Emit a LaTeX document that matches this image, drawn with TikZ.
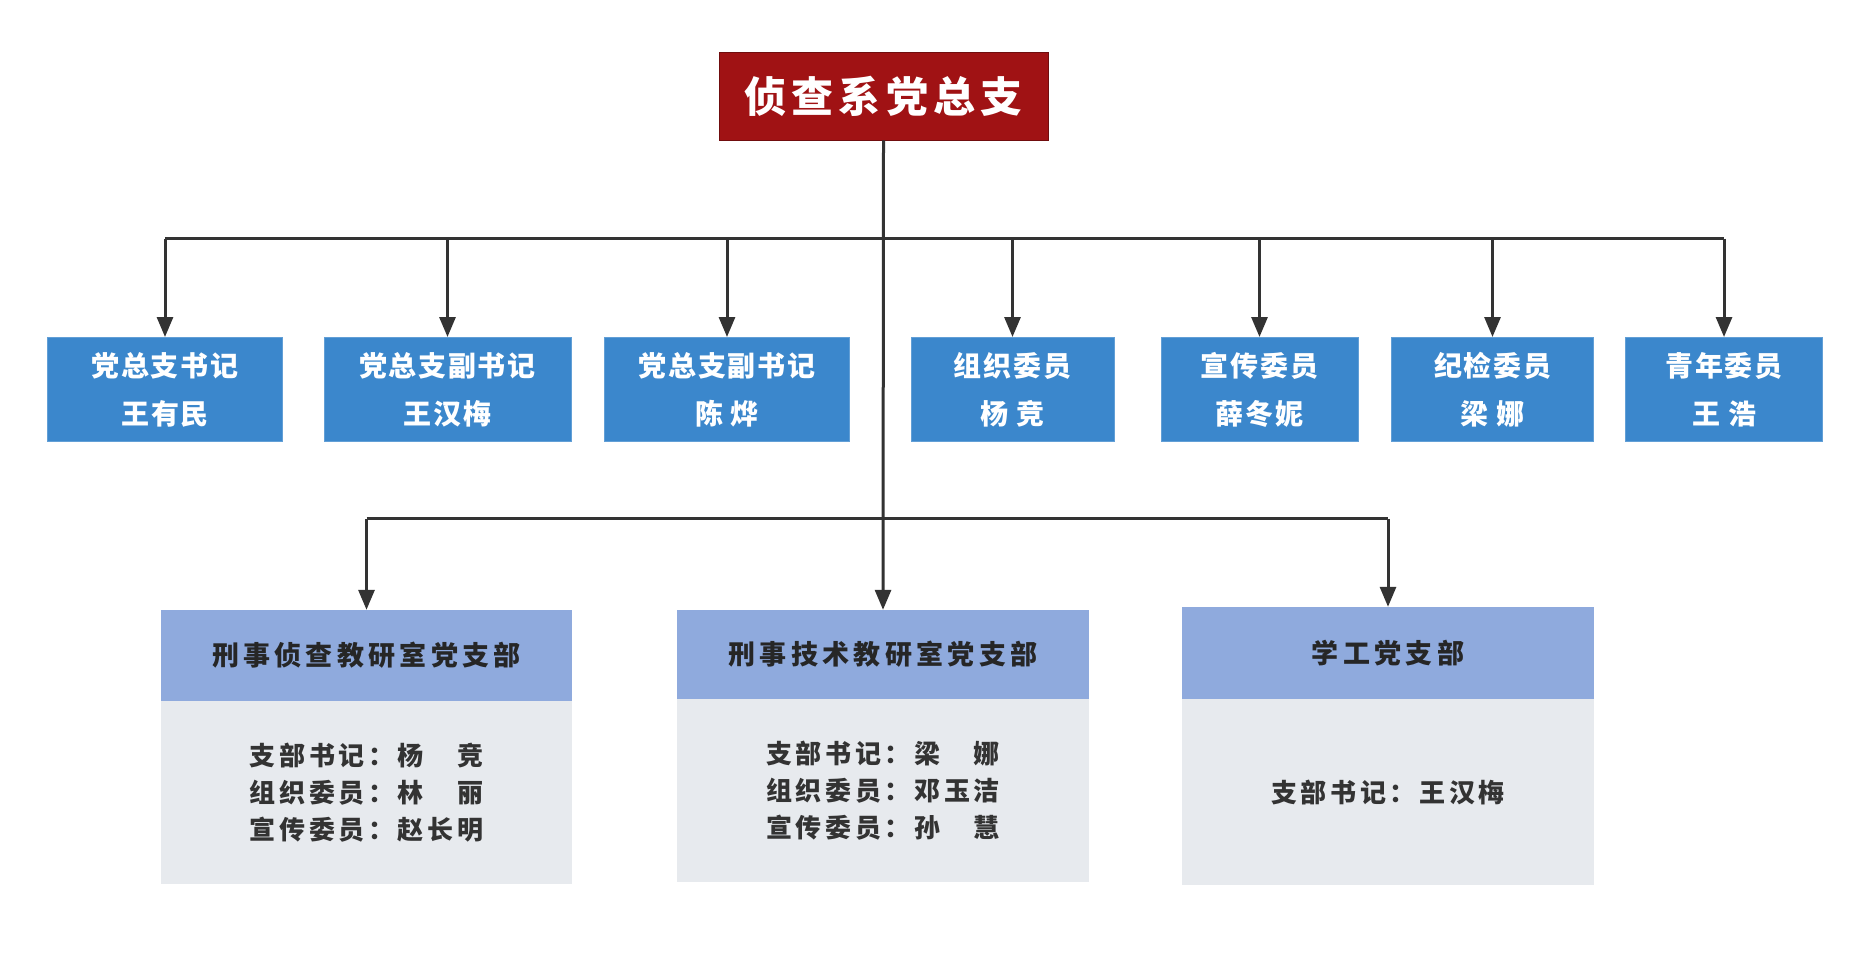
\documentclass[tikz,border=0pt]{standalone}
\usepackage{fontspec}
\newfontfamily\cjk{Noto Sans CJK SC}
\usetikzlibrary{arrows.meta}
\definecolor{topred}{HTML}{A01214}
\definecolor{midblue}{HTML}{3B87CC}
\definecolor{hdrblue}{HTML}{8FAADD}
\definecolor{bodygray}{HTML}{E7EAEE}
\definecolor{linegray}{HTML}{333333}
\tikzset{
  topbox/.style={fill=topred, draw=topred!70!black, line width=0.8pt, text=white, inner sep=0pt,
    font={\cjk\bfseries\addfontfeatures{LetterSpace=12}\fontsize{42}{48}\selectfont}},
  midbox/.style={fill=midblue, draw=midblue!80!white, line width=0.8pt, text=white, inner sep=0pt, align=center,
    font={\cjk\bfseries\addfontfeatures{LetterSpace=6}\fontsize{28}{48}\selectfont}},
  hdrbox/.style={fill=hdrblue, draw=none, text=black!85, inner sep=0pt,
    font={\cjk\bfseries\addfontfeatures{LetterSpace=16}\fontsize{27}{30}\selectfont}},
  bodybox/.style={fill=bodygray, draw=none, text=black!80, inner sep=0pt, align=left,
    font={\cjk\bfseries\addfontfeatures{LetterSpace=14}\fontsize{26}{37}\selectfont}},
  conn/.style={draw=linegray, line width=3pt},
  arr/.style={conn, -{Triangle[width=16pt,length=20pt]}},
}
\begin{document}
\begin{tikzpicture}[x=1pt,y=-1pt]
\useasboundingbox (0,0) rectangle (1870,972);
\fill[white] (0,0) rectangle (1870,972);
% top
\node[topbox, minimum width=329pt, minimum height=88pt] (top) at (883.5,96) {侦查系党总支};
% row 2
\node[midbox, minimum width=235pt, minimum height=104pt] (b1) at (165,389.4) {党总支书记\\王有民};
\node[midbox, minimum width=247pt, minimum height=104pt] (b2) at (447.5,389.4) {党总支副书记\\王汉梅};
\node[midbox, minimum width=245pt, minimum height=104pt] (b3) at (727,389.4) {党总支副书记\\陈\hspace{8pt}烨};
\node[midbox, minimum width=203pt, minimum height=104pt] (b4) at (1012.5,389.4) {组织委员\\杨\hspace{8pt}竞};
\node[midbox, minimum width=197pt, minimum height=104pt] (b5) at (1259.5,389.4) {宣传委员\\薛冬妮};
\node[midbox, minimum width=202pt, minimum height=104pt] (b6) at (1492.5,389.4) {纪检委员\\梁\hspace{8pt}娜};
\node[midbox, minimum width=197pt, minimum height=104pt] (b7) at (1724,389.4) {青年委员\\王\hspace{8pt}浩};
% bottom
\node[hdrbox, minimum width=411pt, minimum height=91pt] (h1) at (366.5,655.5) {刑事侦查教研室党支部};
\node[bodybox, minimum width=411pt, minimum height=183pt, anchor=north] (d1) at (h1.south) {支部书记：杨　竞\\组织委员：林　丽\\宣传委员：赵长明};
\node[hdrbox, minimum width=412pt, minimum height=89pt] (h2) at (883,654.5) {刑事技术教研室党支部};
\node[bodybox, minimum width=412pt, minimum height=183pt, anchor=north] (d2) at (h2.south) {支部书记：梁　娜\\组织委员：邓玉洁\\宣传委员：孙　慧};
\node[hdrbox, minimum width=412pt, minimum height=92pt] (h3) at (1388,653) {学工党支部};
\node[bodybox, minimum width=412pt, minimum height=186pt, anchor=north] (d3) at (h3.south) {支部书记：王汉梅};
% connectors
\coordinate (j1) at (883.5,238.5);
\coordinate (j2) at (883.5,518.8);
\draw[conn] (b1.north |- j1) -- (b7.north |- j1);
\foreach \b in {b1,b2,b3,b4,b5,b6,b7}{
  \draw[arr] (\b.north |- j1) -- (\b.north);
}
\draw[arr] (top.south) -- (h2.north);
\draw[conn] (h1.north |- j2) -- (h3.north |- j2);
\draw[arr] (h1.north |- j2) -- (h1.north);
\draw[arr] (h3.north |- j2) -- (h3.north);
\end{tikzpicture}
\end{document}
